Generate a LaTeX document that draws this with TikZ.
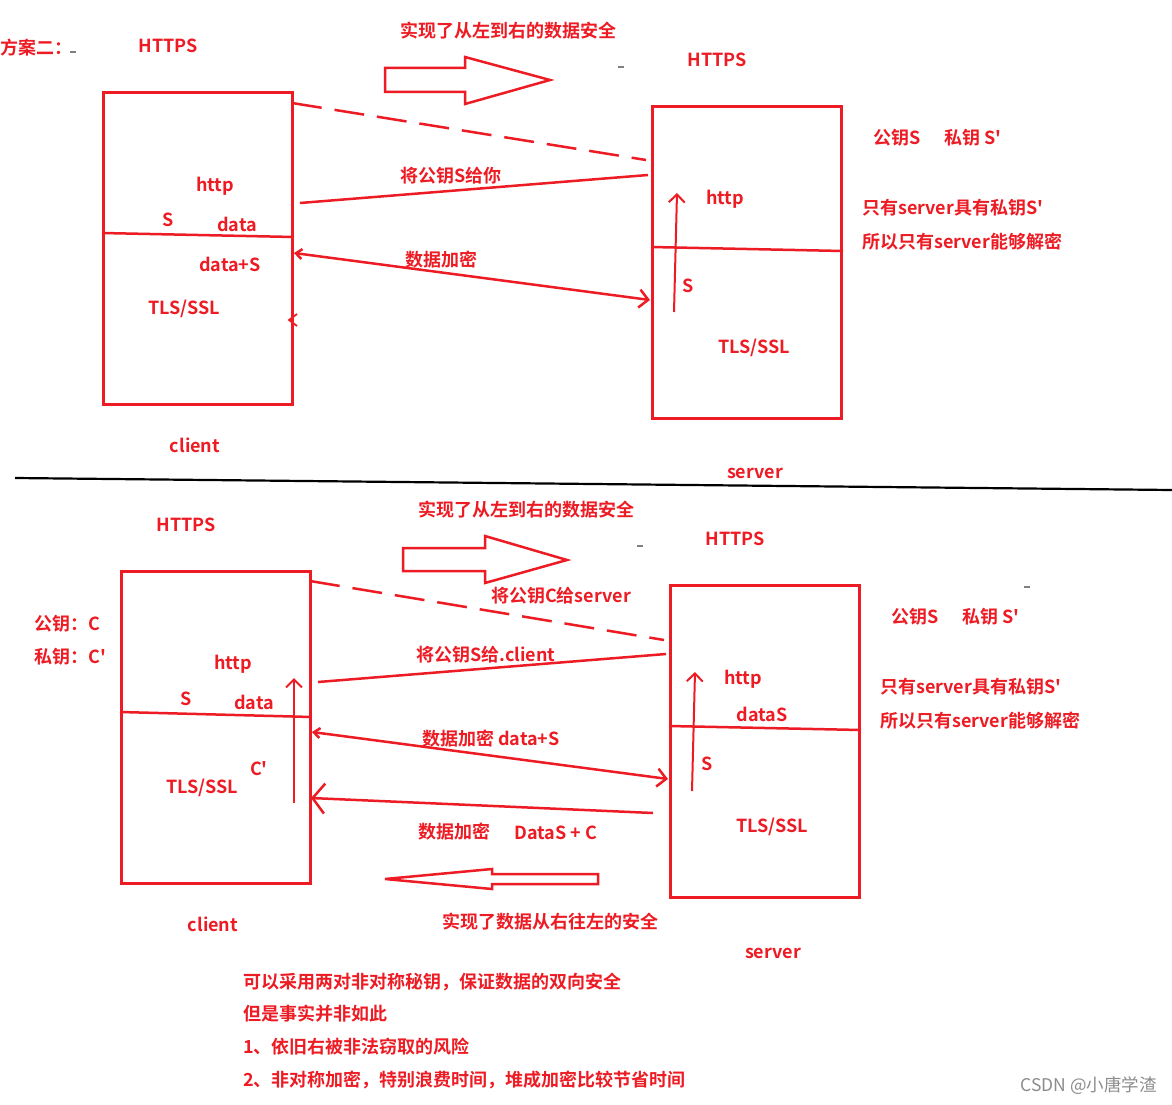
\documentclass[tikz,border=0pt]{standalone}
\usepackage{fontspec}
\setmainfont{Noto Sans CJK SC}[BoldFont={* Bold},Ligatures=TeXOff]
\usetikzlibrary{arrows.meta}
\definecolor{pred}{HTML}{ED1C24}
\begin{document}
\begin{tikzpicture}[x=1pt,y=-1pt,
  txt/.style={text=pred, font=\fontsize{18}{20}\selectfont\bfseries, inner sep=0pt},
  ltxt/.style={txt, anchor=west},
  box/.style={draw=pred, line width=3pt, minimum width=189pt, minimum height=312pt, anchor=north west, inner sep=0pt},
  link/.style={draw=pred, line width=2.5pt},
  dlink/.style={link, dash pattern=on 30pt off 13pt},
  barb/.style={-{Straight Barb[length=8pt,width=16pt]}},
  dbarb/.style={{Straight Barb[length=6pt,width=10pt]}-{Straight Barb[length=9pt,width=18pt]}},
  divider/.style={draw=pred, line width=2.5pt},
  hollow/.style={draw=pred, line width=2.5pt, line join=miter},
  graymark/.style={draw=gray, line width=1.2pt}
]
\useasboundingbox[fill=white] (0,0) rectangle (1172,1105);

% ================= top half =================
\node[ltxt] (fa) at (0,48) {方案二：};
\draw[graymark] (70,52) -- (76,52);
\node[txt] (h1) at (168,46) {HTTPS};
\node[txt] (t1) at (508,31) {实现了从左到右的数据安全};
\draw[hollow] (385,68) -- (465,68) -- (465,57) -- (550,80) -- (465,104) -- (465,92) -- (385,92) -- cycle;
\draw[graymark] (618,67) -- (624,67);
\node[txt] (h2) at (717,60) {HTTPS};

\node[box] (c1) at (102,91) {};
\draw[divider] (102,233) -- (294,237);
\node[txt] (c1http) at (215,186) {http};
\node[txt] (c1s) at (168,220) {S};
\node[txt] (c1data) at (237,224) {data};
\node[txt] (c1ds) at (230,264) {data+S};
\node[txt] (c1tls) at (184,309) {TLS/SSL};
\node[txt] (c1name) at (195,445) {client};
\draw[link, line width=1.8pt] (297,314) -- (289,320) -- (297,326);

\node[box] (s1) at (651,105) {};
\draw[divider] (651,247) -- (843,251);
\node[txt] (s1http) at (725,199) {http};
\node[txt] (s1s) at (688,286) {S};
\node[txt] (s1tls) at (754,348) {TLS/SSL};
\node[txt] (s1name) at (755,473) {server};
\coordinate (s1up0) at (674,312);
\coordinate (s1up1) at (677,193);
\draw[link, barb, line width=2pt] (s1up0) -- (s1up1);

\node[ltxt] (k1a) at (873,138) {公钥S};
\node[ltxt] (k1b) at (944,138) {私钥 S'};
\node[ltxt] (n1a) at (862,208) {只有server具有私钥S'};
\node[ltxt] (n1b) at (862,242) {所以只有server能够解密};

\coordinate (a1s) at (292,103);
\coordinate (a1e) at (646,160);
\draw[dlink] (a1s) -- (a1e);
\coordinate (a2s) at (648,175);
\coordinate (a2e) at (300,203);
\draw[link] (a2s) -- (a2e);
\node[txt] (l2) at (451,176) {将公钥S给你};
\coordinate (a3s) at (294,253);
\coordinate (a3e) at (650,300);
\draw[link, dbarb] (a3s) -- (a3e);
\node[txt] (l3) at (441,260) {数据加密};

% separator
\draw[black, line width=2.2pt] (15,478) -- (1172,490);

% ================= bottom half =================
\node[txt] (h3) at (186,525) {HTTPS};
\node[txt] (t2) at (526,510) {实现了从左到右的数据安全};
\draw[hollow] (403,548) -- (485,548) -- (485,536) -- (567,560) -- (485,583) -- (485,571) -- (403,571) -- cycle;
\draw[graymark] (637,546) -- (643,546);
\node[txt] (h4) at (735,539) {HTTPS};

\node[ltxt] (k2a) at (34,624) {公钥：C};
\node[ltxt] (k2b) at (34,657) {私钥：C'};

\node[box] (c2) at (120,570) {};
\draw[divider] (120,712) -- (312,717);
\node[txt] (c2http) at (233,664) {http};
\node[txt] (c2s) at (186,699) {S};
\node[txt] (c2data) at (254,702) {data};
\node[txt] (c2cp) at (259,769) {C'};
\node[txt] (c2tls) at (202,788) {TLS/SSL};
\node[txt] (c2name) at (213,924) {client};
\coordinate (c2up0) at (294,803);
\coordinate (c2up1) at (294,678);
\draw[link, barb, line width=2pt] (c2up0) -- (c2up1);

\node[box] (s2) at (669,584) {};
\draw[divider] (669,726) -- (861,730);
\node[txt] (s2http) at (743,679) {http};
\node[txt] (s2data) at (762,714) {dataS};
\node[txt] (s2s) at (707,764) {S};
\node[txt] (s2tls) at (772,827) {TLS/SSL};
\node[txt] (s2name) at (773,953) {server};
\coordinate (s2up0) at (692,791);
\coordinate (s2up1) at (695,672);
\draw[link, barb, line width=2pt] (s2up0) -- (s2up1);

\draw[graymark] (1024,587) -- (1030,587);
\node[ltxt] (k3a) at (891,617) {公钥S};
\node[ltxt] (k3b) at (962,617) {私钥 S'};
\node[ltxt] (n2a) at (880,687) {只有server具有私钥S'};
\node[ltxt] (n2b) at (880,721) {所以只有server能够解密};

\coordinate (b1s) at (310,581);
\coordinate (b1e) at (664,640);
\draw[dlink] (b1s) -- (b1e);
\node[txt] (lb1) at (561,596) {将公钥C给server};
\coordinate (b2s) at (666,654);
\coordinate (b2e) at (318,682);
\draw[link] (b2s) -- (b2e);
\node[txt] (lb2) at (486,655) {将公钥S给.client};
\coordinate (b3s) at (312,732);
\coordinate (b3e) at (668,779);
\draw[link, dbarb] (b3s) -- (b3e);
\node[txt] (lb3) at (491,739) {数据加密 data+S};
\coordinate (b4s) at (653,813);
\coordinate (b4e) at (311,798);
\draw[link, -{Straight Barb[length=12pt,width=30pt]}] (b4s) -- (b4e);
\node[txt] (lb4a) at (454,832) {数据加密};
\node[txt] (lb4b) at (556,833) {DataS + C};

\draw[hollow] (598,874) -- (492,874) -- (492,869) -- (385,879) -- (492,889) -- (492,884) -- (598,884) -- cycle;
\node[txt] (t3) at (550,922) {实现了数据从右往左的安全};

\node[ltxt] (m1) at (243,982) {可以采用两对非对称秘钥，保证数据的双向安全};
\node[ltxt] (m2) at (243,1014) {但是事实并非如此};
\node[ltxt] (m3) at (243,1047) {1、依旧右被非法窃取的风险};
\node[ltxt] (m4) at (243,1080) {2、非对称加密，特别浪费时间，堆成加密比较节省时间};

\node[anchor=east, inner sep=0pt, text=black!45, font=\fontsize{17.5}{20}\selectfont] (wm) at (1157,1086) {CSDN @小唐学渣};
\end{tikzpicture}
\end{document}
